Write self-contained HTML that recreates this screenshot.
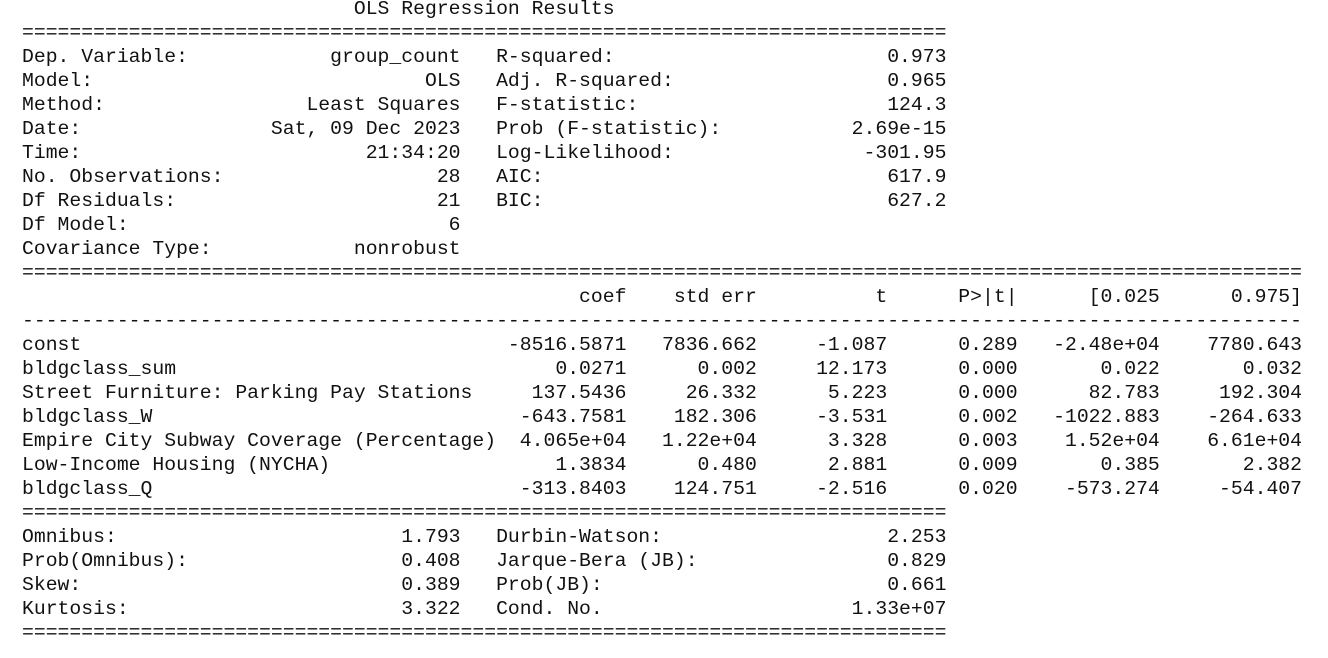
<!DOCTYPE html>
<html>
<head>
<meta charset="utf-8">
<style>
  html, body { margin: 0; padding: 0; background: #fff; }
  body { width: 1328px; height: 658px; overflow: hidden; position: relative; }
  #summary {
    position: absolute; left: 22px; top: -3px;
    font-family: "Liberation Mono", "DejaVu Sans Mono", monospace;
    font-size: 19.75px; color: #111;
  }
  .ln { height: 24px; line-height: 24px; white-space: pre; }
</style>
</head>
<body>
<div id="summary"></div>
<script>
const title = "OLS Regression Results";
const topRows = [
  ["Dep. Variable:", "group_count", "R-squared:", "0.973"],
  ["Model:", "OLS", "Adj. R-squared:", "0.965"],
  ["Method:", "Least Squares", "F-statistic:", "124.3"],
  ["Date:", "Sat, 09 Dec 2023", "Prob (F-statistic):", "2.69e-15"],
  ["Time:", "21:34:20", "Log-Likelihood:", "-301.95"],
  ["No. Observations:", "28", "AIC:", "617.9"],
  ["Df Residuals:", "21", "BIC:", "627.2"],
  ["Df Model:", "6", "", ""],
  ["Covariance Type:", "nonrobust", "", ""]
];
const paramHeader = ["coef", "std err", "t", "P>|t|", "[0.025", "0.975]"];
const paramRows = [
  ["const", "-8516.5871", "7836.662", "-1.087", "0.289", "-2.48e+04", "7780.643"],
  ["bldgclass_sum", "0.0271", "0.002", "12.173", "0.000", "0.022", "0.032"],
  ["Street Furniture: Parking Pay Stations", "137.5436", "26.332", "5.223", "0.000", "82.783", "192.304"],
  ["bldgclass_W", "-643.7581", "182.306", "-3.531", "0.002", "-1022.883", "-264.633"],
  ["Empire City Subway Coverage (Percentage)", "4.065e+04", "1.22e+04", "3.328", "0.003", "1.52e+04", "6.61e+04"],
  ["Low-Income Housing (NYCHA)", "1.3834", "0.480", "2.881", "0.009", "0.385", "2.382"],
  ["bldgclass_Q", "-313.8403", "124.751", "-2.516", "0.020", "-573.274", "-54.407"]
];
const diagRows = [
  ["Omnibus:", "1.793", "Durbin-Watson:", "2.253"],
  ["Prob(Omnibus):", "0.408", "Jarque-Bera (JB):", "0.829"],
  ["Skew:", "0.389", "Prob(JB):", "0.661"],
  ["Kurtosis:", "3.322", "Cond. No.", "1.33e+07"]
];
const widths = [41, 10, 11, 11, 11, 12, 12];

function twoCol(r) {
  const left = r[0] + " ".repeat(Math.max(1, 37 - r[0].length - r[1].length)) + r[1];
  if (!r[2]) return left;
  const right = r[2] + " ".repeat(Math.max(1, 38 - r[2].length - r[3].length)) + r[3];
  return left + "   " + right;
}
function paramLine(r) {
  let s = r[0].padEnd(widths[0]);
  for (let i = 1; i < r.length; i++) s += r[i].padStart(widths[i]);
  return s;
}

const root = document.getElementById('summary');
function addLine(text, name) {
  const d = document.createElement('div');
  d.className = 'ln';
  d.textContent = text;
  
  
  root.appendChild(d);
}

addLine(" ".repeat(28) + title, "summary-title");
addLine("=".repeat(78), "top-rule");
topRows.forEach(r => addLine(twoCol(r), "model-info-row"));
addLine("=".repeat(108), "params-top-rule");
addLine(paramLine([""].concat(paramHeader)), "params-header");
addLine("-".repeat(108), "params-header-rule");
paramRows.forEach(r => addLine(paramLine(r), "coefficient-row"));
addLine("=".repeat(78), "params-bottom-rule");
diagRows.forEach(r => addLine(twoCol(r), "diagnostics-row"));
addLine("=".repeat(78), "bottom-rule");
</script>
</body>
</html>
